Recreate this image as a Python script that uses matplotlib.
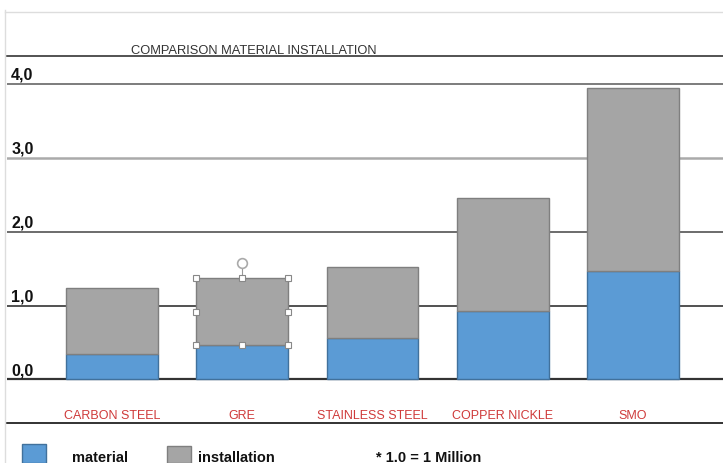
import matplotlib
matplotlib.use('Agg')
import matplotlib.pyplot as plt
import matplotlib.transforms as mtransforms
from matplotlib.patches import Rectangle
from matplotlib.lines import Line2D

plt.rcParams['font.family'] = ['Liberation Sans', 'DejaVu Sans']

# 数据（单位：百万）
categories = ['CARBON STEEL', 'GRE', 'STAINLESS STEEL', 'COPPER NICKLE', 'SMO']
material = [0.35, 0.46, 0.56, 0.92, 1.47]
installation = [0.89, 0.91, 0.96, 1.53, 2.47]
y_ticks = [0, 1, 2, 3, 4]
y_labels = ['0,0', '1,0', '2,0', '3,0', '4,0']
title = 'COMPARISON MATERIAL INSTALLATION'
legend_names = ['material', 'installation']
note = '* 1.0 = 1 Million'

W, H = 723, 464
blue, blue_edge = '#5b9bd5', '#41719c'
gray, gray_edge = '#a5a5a5', '#7f7f7f'
red = '#cf3a3a'


def fx(px):
    return px / W


def fy(py):
    return 1 - py / H


fig = plt.figure(figsize=(W / 100, H / 100), dpi=100)
fig.patch.set_facecolor('white')

# 绘图区
ax = fig.add_axes([fx(7), fy(424), 1 - fx(7), fy(57) - fy(424)])
ax.set_xlim(-0.806, 4.691)
ax.set_ylim(-0.588, 4.372)
ax.set_xticks([])
ax.set_yticks([])
for s in ['left', 'right']:
    ax.spines[s].set_visible(False)
ax.spines['top'].set_color('#444444')
ax.spines['top'].set_linewidth(1.3)
ax.spines['bottom'].set_color('#222222')
ax.spines['bottom'].set_linewidth(1.3)

# 网格线
grid_style = {0: ('#333333', 1.6), 1: ('#222222', 1.1), 2: ('#444444', 1.1),
              3: ('#aaaaaa', 1.8), 4: ('#666666', 1.2)}
for v, lab in zip(y_ticks, y_labels):
    c, lw = grid_style[v]
    ax.axhline(v, color=c, lw=lw, zorder=1)
    ax.annotate(lab, xy=(0, v), xycoords=('axes fraction', 'data'),
                xytext=(3, 3.4), textcoords='offset points',
                fontsize=11.5, fontweight='bold', color='#111111', va='baseline')

# 堆叠柱状图
x = list(range(len(categories)))
ax.bar(x, material, width=0.705, color=blue, edgecolor=blue_edge, lw=1, zorder=3)
ax.bar(x, installation, width=0.705, bottom=material, color=gray,
       edgecolor=gray_edge, lw=1, zorder=3)

# GRE 选中框的控制点
i = 1
xl, xr = x[i] - 0.705 / 2, x[i] + 0.705 / 2
yb, yt = material[i], material[i] + installation[i]
hx = [xl, x[i], xr, xl, xr, xl, x[i], xr]
hy = [yt, yt, yt, (yb + yt) / 2, (yb + yt) / 2, yb, yb, yb]
ax.plot([x[i], x[i]], [yt, yt + 0.13], color='#999999', lw=0.8, zorder=4)
ax.plot(hx, hy, 's', ms=4.5, mfc='white', mec='#888888', mew=0.8, ls='none', zorder=5)
ax.plot([x[i]], [yt + 0.2], 'o', ms=7, mfc='white', mec='#aaaaaa', mew=1.2, zorder=5)

# 类别标签
trans = mtransforms.blended_transform_factory(ax.transData, fig.transFigure)
for xi, name in zip(x, categories):
    ax.text(xi, fy(416), name, transform=trans, ha='center', va='center',
            fontsize=9, color=red)

# 标题
fig.text(fx(254), fy(54), title, ha='center', va='baseline', fontsize=9.3, color='#333333')

# 外框细线
fig.add_artist(Line2D([fx(5), 1], [fy(13), fy(13)], color='#dddddd', lw=1))
fig.add_artist(Line2D([fx(5), fx(5)], [fy(11), 0], color='#dddddd', lw=1))

# 图例
fig.add_artist(Rectangle((fx(22), 0), fx(46) - fx(22), fy(445), facecolor=blue,
                         edgecolor=blue_edge, lw=1))
fig.add_artist(Rectangle((fx(167), 0), fx(191) - fx(167), fy(447), facecolor=gray,
                         edgecolor=gray_edge, lw=1))
fig.text(fx(72), fy(462), legend_names[0], fontsize=10.5, fontweight='bold', color='#111111')
fig.text(fx(198), fy(462), legend_names[1], fontsize=10.5, fontweight='bold', color='#111111')
fig.text(fx(376), fy(462), note, fontsize=10.5, fontweight='bold', color='#111111')

fig.savefig('out.png', dpi=100, facecolor='white')
